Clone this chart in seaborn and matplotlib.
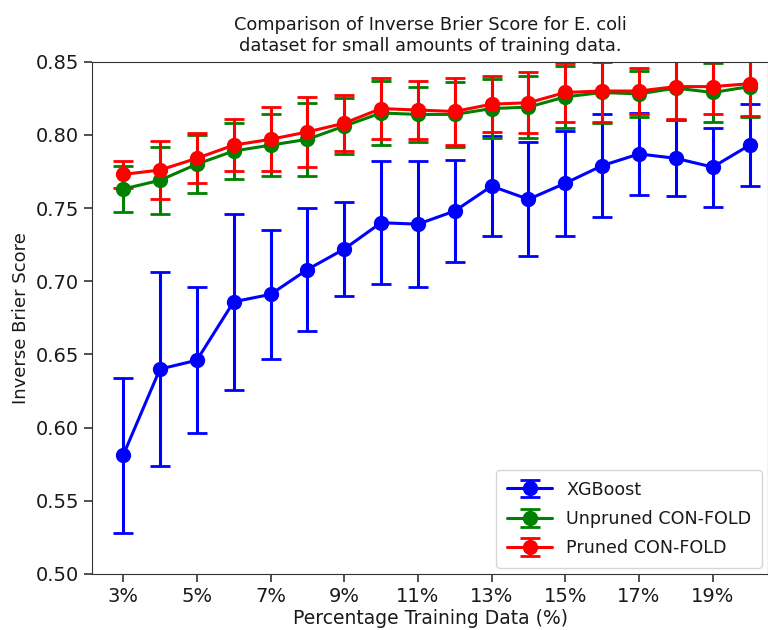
import numpy as np
import seaborn as sns
import matplotlib
matplotlib.use("Agg")
import matplotlib.pyplot as plt

pct = [3, 4, 5, 6, 7, 8, 9, 10, 11, 12, 13, 14, 15, 16, 17, 18, 19, 20]

xgb_mean = [0.581, 0.640, 0.646, 0.686, 0.691, 0.708, 0.722, 0.740, 0.739, 0.748,
            0.765, 0.756, 0.767, 0.779, 0.787, 0.784, 0.778, 0.793]
xgb_err = [0.053, 0.066, 0.050, 0.060, 0.044, 0.042, 0.032, 0.042, 0.043, 0.035,
           0.034, 0.039, 0.036, 0.035, 0.028, 0.026, 0.027, 0.028]

unpruned_mean = [0.763, 0.769, 0.780, 0.789, 0.793, 0.797, 0.806, 0.815, 0.814, 0.814,
                 0.818, 0.819, 0.826, 0.829, 0.828, 0.832, 0.829, 0.833]
unpruned_err = [0.016, 0.023, 0.020, 0.019, 0.021, 0.025, 0.019, 0.022, 0.019, 0.022,
                0.020, 0.021, 0.021, 0.021, 0.016, 0.022, 0.020, 0.021]

pruned_mean = [0.773, 0.776, 0.784, 0.793, 0.797, 0.802, 0.808, 0.818, 0.817, 0.816,
               0.821, 0.822, 0.829, 0.830, 0.830, 0.833, 0.833, 0.835]
pruned_err = [0.009, 0.020, 0.017, 0.018, 0.022, 0.024, 0.019, 0.021, 0.020, 0.023,
              0.019, 0.021, 0.020, 0.021, 0.016, 0.022, 0.019, 0.022]

sns.set_style("ticks", {"axes.edgecolor": "0.2", "xtick.color": "0.2", "ytick.color": "0.2",
                        "text.color": "0.1", "axes.labelcolor": "0.1"})
plt.rcParams["font.family"] = ["DejaVu Sans"]

fig = plt.figure(figsize=(7.68, 6.3), dpi=100)
ax = fig.add_axes([0.12, 0.089, 0.88, 0.813])

series = [
    ("XGBoost", xgb_mean, xgb_err, "blue"),
    ("Unpruned CON-FOLD", unpruned_mean, unpruned_err, "green"),
    ("Pruned CON-FOLD", pruned_mean, pruned_err, "red"),
]
for nombre, media, err, color in series:
    ax.errorbar(pct, media, yerr=err, color=color, marker="o", markersize=10,
                linewidth=2.2, elinewidth=2.2, capsize=7, capthick=2, label=nombre)

ax.set_xlim(2.16, 20.5)
ax.set_ylim(0.50, 0.85)
ax.set_xticks(pct[::2])
ax.set_xticklabels([f"{p}%" for p in pct[::2]])
ax.set_yticks(np.arange(0.50, 0.851, 0.05))
ax.set_yticklabels([f"{v:.2f}" for v in np.arange(0.50, 0.851, 0.05)])
ax.tick_params(labelsize=14, length=6, width=1.2, labelcolor="0.1")

ax.set_xlabel("Percentage Training Data (%)", fontsize=13.5, labelpad=2)
ax.set_ylabel("Inverse Brier Score", fontsize=13)
ax.set_title("Comparison of Inverse Brier Score for E. coli\ndataset for small amounts of training data.",
             fontsize=12.8, pad=8)

ax.legend(loc="lower right", fontsize=12.6, frameon=True, borderpad=0.6,
          labelspacing=0.65, handlelength=2.6, borderaxespad=0.35)

fig.savefig("out.png", dpi=100)
